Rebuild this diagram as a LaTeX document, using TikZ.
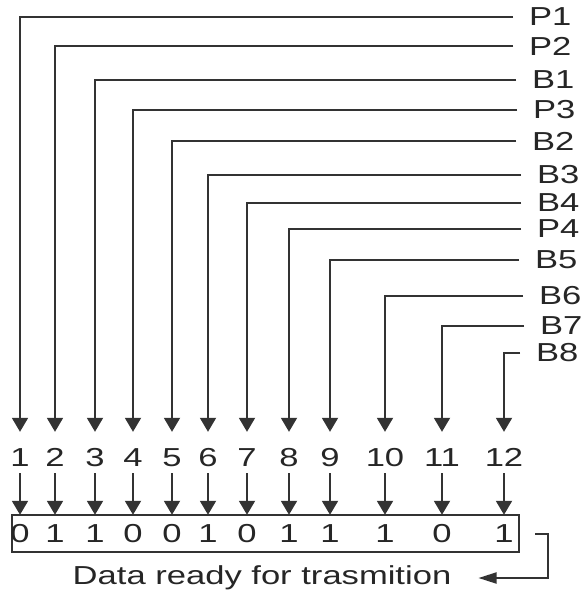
\documentclass[tikz,border=0pt]{standalone}
\usepackage{fontspec}
\setmainfont{Liberation Sans}[FakeStretch=1.33]
\usetikzlibrary{arrows.meta}

\begin{document}
\begin{tikzpicture}[
    x=1pt, y=-1pt,
    every node/.style={font=\fontsize{26}{30}\selectfont, text=black!85},
    tag/.style={anchor=west, inner sep=0pt, outer xsep=16pt},
    slot/.style={inner sep=0pt, text height=18pt, text depth=0pt},
    bit/.style={inner sep=0pt, minimum height=37pt},
    wire/.style={line width=1.9pt, draw=black!80, -{Triangle[width=16pt,length=14pt]}}
]
    \fill[white] (0,0) rectangle (584,590);
    \useasboundingbox (0,0) rectangle (584,590);

    % Parity and data bit names
    \node[tag] (P1) at (513,17) {P1};
    \node[tag] (P2) at (513,46) {P2};
    \node[tag] (B1) at (516,80) {B1};
    \node[tag] (P3) at (517,110) {P3};
    \node[tag] (B2) at (516,141) {B2};
    \node[tag] (B3) at (521,175) {B3};
    \node[tag] (B4) at (521,203) {B4};
    \node[tag] (P4) at (521,229) {P4};
    \node[tag] (B5) at (519,260) {B5};
    \node[tag] (B6) at (523,296) {B6};
    \node[tag] (B7) at (524,326) {B7};
    \node[tag] (B8) at (520,353) {B8};

    % Positions
    \node[slot] (n1) at (20,457) {1};
    \node[slot] (n2) at (55,457) {2};
    \node[slot] (n3) at (95,457) {3};
    \node[slot] (n4) at (133,457) {4};
    \node[slot] (n5) at (172,457) {5};
    \node[slot] (n6) at (208,457) {6};
    \node[slot] (n7) at (247,457) {7};
    \node[slot] (n8) at (289,457) {8};
    \node[slot] (n9) at (330,457) {9};
    \node[slot] (n10) at (385,457) {10};
    \node[slot] (n11) at (442,457) {11};
    \node[slot] (n12) at (504,457) {12};

    % Code word
    \node[draw=black!80, line width=1.9pt, minimum width=507pt, minimum height=37pt, inner sep=0pt] (word) at (265.5,533.5) {};
    \node[bit] (b1) at (20,533.5) {0};
    \node[bit] (b2) at (55,533.5) {1};
    \node[bit] (b3) at (95,533.5) {1};
    \node[bit] (b4) at (133,533.5) {0};
    \node[bit] (b5) at (172,533.5) {0};
    \node[bit] (b6) at (208,533.5) {1};
    \node[bit] (b7) at (247,533.5) {0};
    \node[bit] (b8) at (289,533.5) {1};
    \node[bit] (b9) at (330,533.5) {1};
    \node[bit] (b10) at (385,533.5) {1};
    \node[bit] (b11) at (442,533.5) {0};
    \node[bit] (b12) at (504,533.5) {1};

    \node[inner sep=0pt] (msg) at (262,578) {Data ready for trasmition};

    % Bit names down to positions
    \draw[wire, shorten >=16pt] (P1.west) -| (n1.north);
    \draw[wire, shorten >=16pt] (P2.west) -| (n2.north);
    \draw[wire, shorten >=16pt] (B1.west) -| (n3.north);
    \draw[wire, shorten >=16pt] (P3.west) -| (n4.north);
    \draw[wire, shorten >=16pt] (B2.west) -| (n5.north);
    \draw[wire, shorten >=16pt] (B3.west) -| (n6.north);
    \draw[wire, shorten >=16pt] (B4.west) -| (n7.north);
    \draw[wire, shorten >=16pt] (P4.west) -| (n8.north);
    \draw[wire, shorten >=16pt] (B5.west) -| (n9.north);
    \draw[wire, shorten >=16pt] (B6.west) -| (n10.north);
    \draw[wire, shorten >=16pt] (B7.west) -| (n11.north);
    \draw[wire, shorten >=16pt] (B8.west) -| (n12.north);

    % Positions down to the word
    \draw[wire, shorten <=7pt] (n1.south) -- (b1.north);
    \draw[wire, shorten <=7pt] (n2.south) -- (b2.north);
    \draw[wire, shorten <=7pt] (n3.south) -- (b3.north);
    \draw[wire, shorten <=7pt] (n4.south) -- (b4.north);
    \draw[wire, shorten <=7pt] (n5.south) -- (b5.north);
    \draw[wire, shorten <=7pt] (n6.south) -- (b6.north);
    \draw[wire, shorten <=7pt] (n7.south) -- (b7.north);
    \draw[wire, shorten <=7pt] (n8.south) -- (b8.north);
    \draw[wire, shorten <=7pt] (n9.south) -- (b9.north);
    \draw[wire, shorten <=7pt] (n10.south) -- (b10.north);
    \draw[wire, shorten <=7pt] (n11.south) -- (b11.north);
    \draw[wire, shorten <=7pt] (n12.south) -- (b12.north);

    % Out
    \coordinate (tail) at (535,534);
    \coordinate (bend) at (548,578);
    \draw[wire, -{Triangle[width=11pt,length=18pt]}, shorten >=27pt] (tail) -| (bend) -- (msg.east);
\end{tikzpicture}
\end{document}
